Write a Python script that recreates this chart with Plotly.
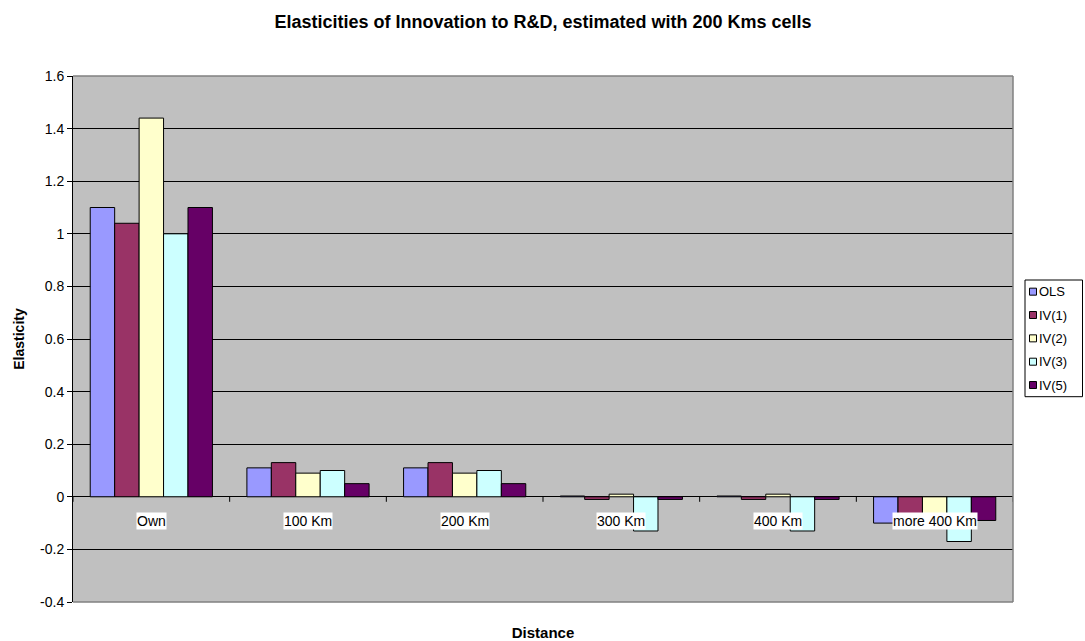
import plotly.graph_objects as go

# Distance bands and estimated elasticities per estimator
categories = ["Own", "100 Km", "200 Km", "300 Km", "400 Km", "more 400 Km"]
series_names = ["OLS", "IV(1)", "IV(2)", "IV(3)", "IV(5)"]
ols = [1.10, 0.11, 0.11, 0.003, 0.003, -0.10]
iv1 = [1.04, 0.13, 0.13, -0.01, -0.01, -0.08]
iv2 = [1.44, 0.09, 0.09, 0.01, 0.01, -0.07]
iv3 = [1.00, 0.10, 0.10, -0.13, -0.13, -0.17]
iv5 = [1.10, 0.05, 0.05, -0.01, -0.01, -0.09]
series_values = [ols, iv1, iv2, iv3, iv5]
series_colors = ["#9999FF", "#993366", "#FFFFCC", "#CCFFFF", "#660066"]

y_ticks = [-0.4, -0.2, 0, 0.2, 0.4, 0.6, 0.8, 1.0, 1.2, 1.4, 1.6]
y_tick_text = ["-0.4", "-0.2", "0", "0.2", "0.4", "0.6", "0.8", "1", "1.2", "1.4", "1.6"]

FONT = "Liberation Sans, Arial, sans-serif"

W, H = 1085, 641
ML, MR, MT, MB = 73, 72, 76, 39
PW = W - ML - MR
PH = H - MT - MB


def px_x(x):
    return (x - ML) / PW


def px_y(y):
    return (H - MB - y) / PH


fig = go.Figure()
for name, vals, col in zip(series_names, series_values, series_colors):
    fig.add_trace(go.Bar(
        name=name, x=categories, y=vals,
        marker=dict(color=col, line=dict(color="black", width=1)),
        showlegend=False,
    ))

shapes = []
# tick marks on the category line at y = 0, at each category boundary
for i in range(len(categories) + 1):
    shapes.append(dict(
        type="line", xref="x", yref="y", x0=i - 0.5, x1=i - 0.5,
        ysizemode="pixel", yanchor=0, y0=0, y1=-5,
        line=dict(color="black", width=1), layer="above",
    ))
# grey frame on top, right and bottom of the plot area
for (x0, y0, x1, y1) in [(0, 1, 1, 1), (1, 0, 1, 1), (0, 0, 1, 0)]:
    shapes.append(dict(
        type="line", xref="paper", yref="paper", x0=x0, y0=y0, x1=x1, y1=y1,
        line=dict(color="#808080", width=1.5), layer="above",
    ))

annotations = []
# category labels sitting just under the zero line
for c in categories:
    annotations.append(dict(
        x=c, y=0, xref="x", yref="y", text=c, showarrow=False,
        yshift=-24, yanchor="middle", xanchor="center",
        bgcolor="white", borderpad=0,
        font=dict(family=FONT, size=14, color="black"),
    ))

# legend box
LX0, LX1, LY0, LY1 = 1025, 1082.5, 280, 396.7
shapes.append(dict(
    type="rect", xref="paper", yref="paper",
    x0=px_x(LX0), x1=px_x(LX1), y0=px_y(LY1), y1=px_y(LY0),
    line=dict(color="black", width=1), fillcolor="white", layer="above",
))
step = (LY1 - LY0) / len(series_names)
for i, (name, col) in enumerate(zip(series_names, series_colors)):
    cy = LY0 + step * (i + 0.5)
    shapes.append(dict(
        type="rect", xref="paper", yref="paper",
        x0=px_x(1029.5), x1=px_x(1036.5), y0=px_y(cy + 3.5), y1=px_y(cy - 3.5),
        line=dict(color="black", width=1), fillcolor=col, layer="above",
    ))
    annotations.append(dict(
        x=px_x(1037), y=px_y(cy), xref="paper", yref="paper", text=name,
        showarrow=False, xanchor="left", yanchor="middle",
        font=dict(family=FONT, size=13, color="black"),
    ))

fig.update_layout(
    width=W, height=H,
    margin=dict(l=ML, r=MR, t=MT, b=MB, autoexpand=False),
    paper_bgcolor="white", plot_bgcolor="#C0C0C0",
    barmode="group", bargap=0.22, bargroupgap=0,
    title=dict(
        text="<b>Elasticities of Innovation to R&D, estimated with 200 Kms cells</b>",
        x=0.5, xanchor="center", xref="paper", y=1 - 22 / H, yanchor="middle", yref="container",
        font=dict(family=FONT, size=18, color="black"),
    ),
    xaxis=dict(
        type="category", range=[-0.5, len(categories) - 0.5],
        showticklabels=False, showgrid=False, showline=False, ticks="", zeroline=False,
        title=dict(text="<b>Distance</b>", standoff=26,
                   font=dict(family=FONT, size=15, color="black")),
    ),
    yaxis=dict(
        range=[-0.4, 1.6], tickvals=y_ticks, ticktext=y_tick_text,
        showgrid=True, gridcolor="black", gridwidth=1,
        zeroline=True, zerolinecolor="black", zerolinewidth=1,
        showline=True, linecolor="black", linewidth=1,
        ticks="outside", ticklen=5, tickcolor="black",
        tickfont=dict(family=FONT, size=14, color="black"),
        title=dict(text="<b>Elasticity</b>", standoff=12,
                   font=dict(family=FONT, size=14, color="black")),
    ),
    shapes=shapes, annotations=annotations,
)

fig.write_html("out.html")
